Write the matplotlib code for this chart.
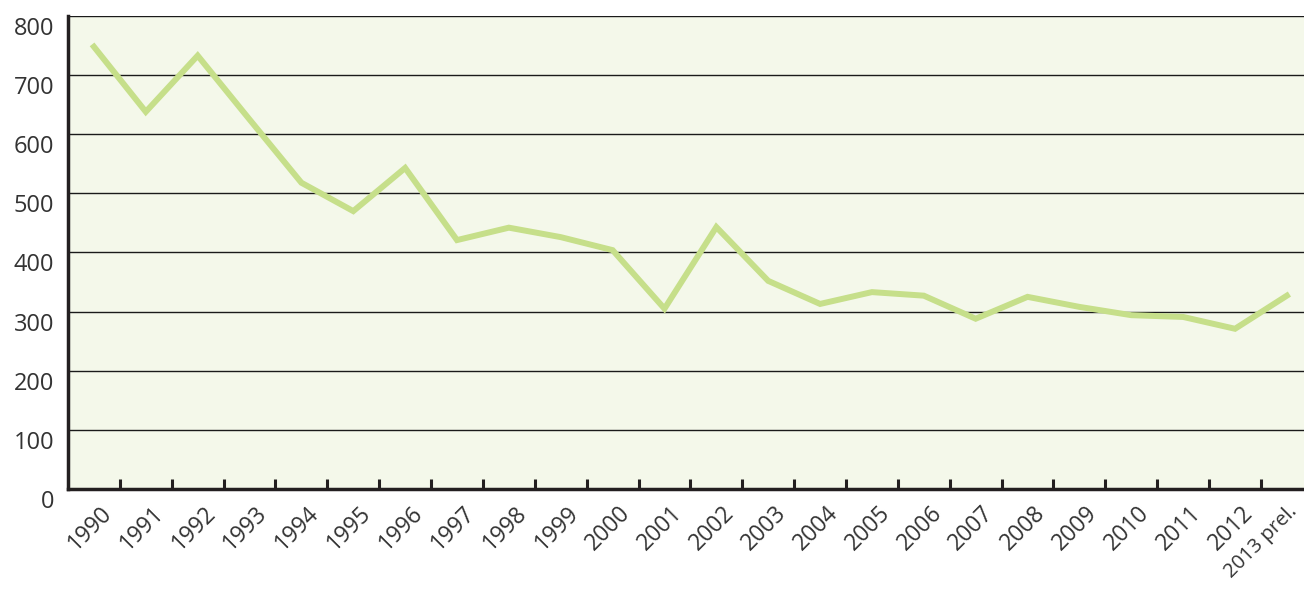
import matplotlib
matplotlib.use("Agg")
import matplotlib.pyplot as plt
import matplotlib.transforms as mtransforms

# data
years = ['1990', '1991', '1992', '1993', '1994', '1995', '1996', '1997', '1998',
         '1999', '2000', '2001', '2002', '2003', '2004', '2005', '2006', '2007',
         '2008', '2009', '2010', '2011', '2012', '2013 prel.']
values = [748, 638, 733, 625, 518, 470, 543, 421, 442, 426, 404, 305, 443,
          352, 313, 333, 327, 288, 325, 308, 294, 291, 271, 327]
y_ticks = [0, 100, 200, 300, 400, 500, 600, 700, 800]

plt.rcParams['font.family'] = ['Open Sans', 'DejaVu Sans']

fig = plt.figure(figsize=(13.04, 5.89), dpi=100)
ax = fig.add_axes([68 / 1304, 1 - 489 / 589, 1 - 68 / 1304, (489 - 16) / 589])
ax.set_facecolor('#f4f8ea')

x = list(range(len(years)))
ax.plot(x, values, color='#c6df8a', linewidth=4.3, solid_joinstyle='miter', zorder=3)

ax.set_xlim(-0.5, 23.33)
ax.set_ylim(0, 800)

# horizontal grid
ax.set_yticks(y_ticks)
for v in y_ticks[1:]:
    ax.axhline(v, color='#1a1a1a', linewidth=1.0, zorder=2)

for s in ['top', 'right']:
    ax.spines[s].set_visible(False)
for s in ['left', 'bottom']:
    ax.spines[s].set_linewidth(2.5)
    ax.spines[s].set_color('#231f20')
    ax.spines[s].set_zorder(4)

ax.tick_params(axis='y', length=0, pad=10, labelsize=17, labelcolor='#333333')
offset = mtransforms.ScaledTranslation(0, -10 / 100, fig.dpi_scale_trans)
for lbl in ax.get_yticklabels():
    lbl.set_transform(lbl.get_transform() + offset)

# category labels at centres, tick marks on the boundaries
ax.set_xticks(x)
ax.set_xticklabels(years, rotation=45, ha='right', va='top', rotation_mode='anchor')
ax.tick_params(axis='x', which='major', length=0, pad=9, labelsize=16.5, labelcolor='#333333')
xoff = mtransforms.ScaledTranslation(6 / 100, 0, fig.dpi_scale_trans)
xlabels = ax.get_xticklabels()
for lbl in xlabels[:-1]:
    lbl.set_transform(lbl.get_transform() + xoff)
xlabels[-1].set_fontsize(14.5)
ax.set_xticks([i + 0.5 for i in x[:-1]], minor=True)
ax.tick_params(axis='x', which='minor', direction='in', length=7.5, width=2.2, color='#231f20')

fig.savefig('out.png', dpi=100)
